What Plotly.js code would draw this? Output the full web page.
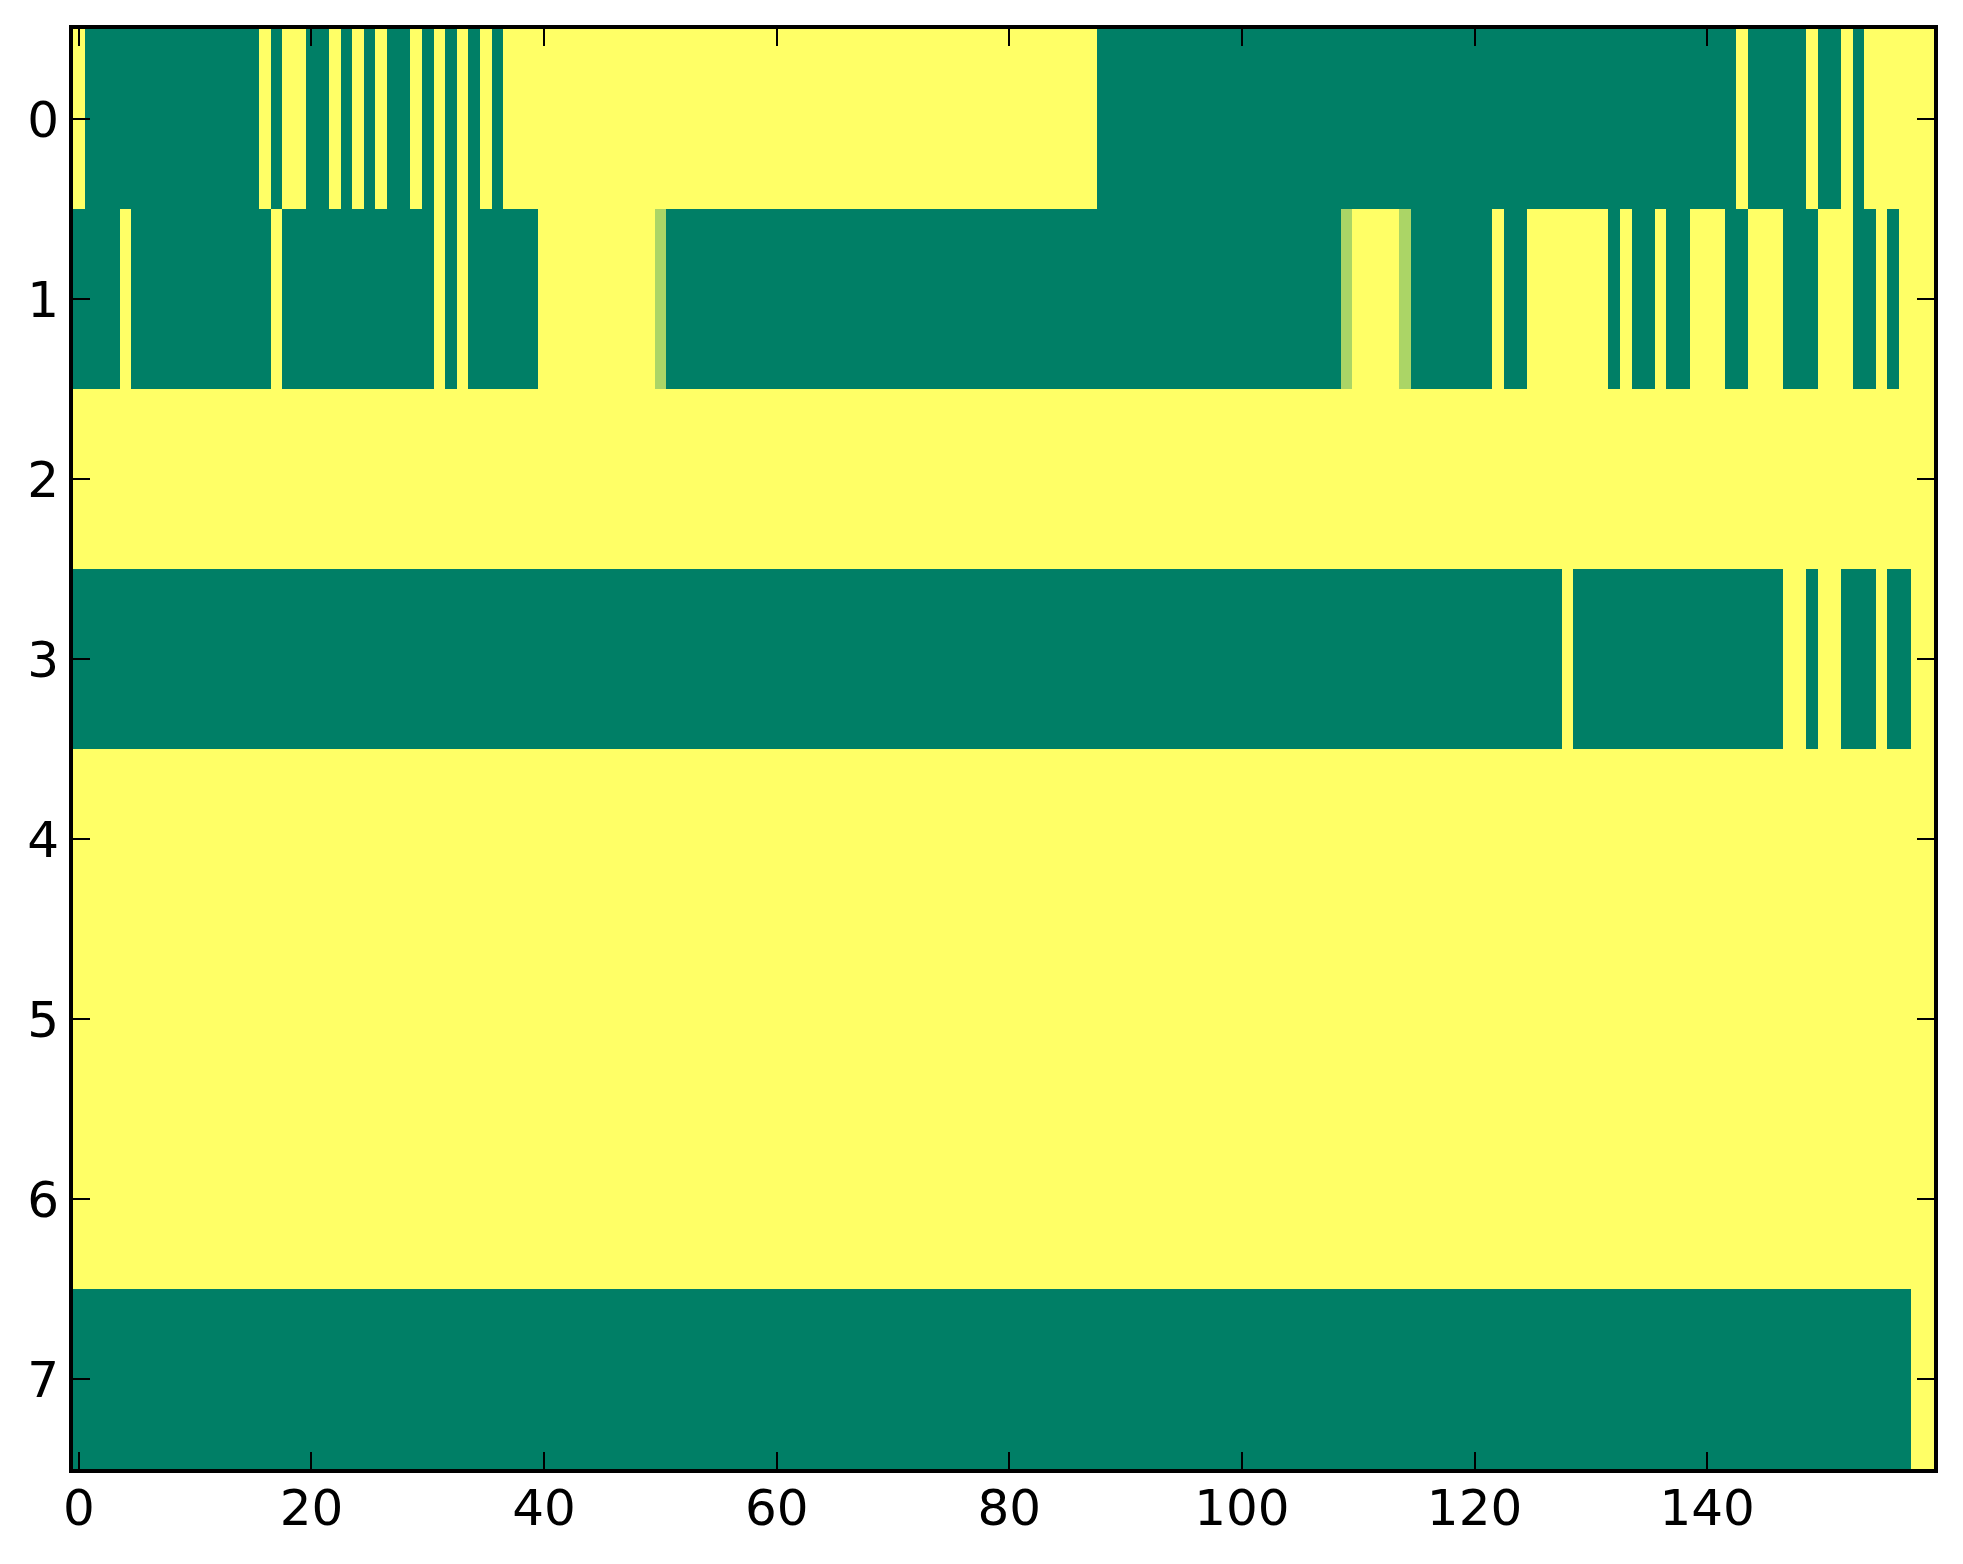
<!DOCTYPE html>
<html>
<head>
<meta charset="utf-8">
<script src="https://cdn.plot.ly/plotly-3.0.1.min.js"></script>
<style>html,body{margin:0;padding:0;background:#fff;}#chart{width:1963px;height:1564px;}</style>
</head>
<body>
<div id="chart"></div>
<script>
// Tick labels
const xTickVals = [0, 20, 40, 60, 80, 100, 120, 140];
const yTickVals = [0, 1, 2, 3, 4, 5, 6, 7];

// Row values (0 = green end, 1 = yellow end of the "summer" colormap), 160 columns each
const row0 = [
  1,0,0,0,0,0,0,0,0,0,
  0,0,0,0,0,0,1,0,1,1,
  0,0,1,0,1,0,1,0,0,1,
  0,1,0,1,0,1,0,1,1,1,
  1,1,1,1,1,1,1,1,1,1,
  1,1,1,1,1,1,1,1,1,1,
  1,1,1,1,1,1,1,1,1,1,
  1,1,1,1,1,1,1,1,1,1,
  1,1,1,1,1,1,1,1,0,0,
  0,0,0,0,0,0,0,0,0,0,
  0,0,0,0,0,0,0,0,0,0,
  0,0,0,0,0,0,0,0,0,0,
  0,0,0,0,0,0,0,0,0,0,
  0,0,0,0,0,0,0,0,0,0,
  0,0,0,1,0,0,0,0,0,1,
  0,0,1,0,1,1,1,1,1,1
];
const row1 = [
  0,0,0,0,1,0,0,0,0,0,
  0,0,0,0,0,0,0,1,0,0,
  0,0,0,0,0,0,0,0,0,0,
  0,1,0,1,0,0,0,0,0,0,
  1,1,1,1,1,1,1,1,1,1,
  0.67,0,0,0,0,0,0,0,0,0,
  0,0,0,0,0,0,0,0,0,0,
  0,0,0,0,0,0,0,0,0,0,
  0,0,0,0,0,0,0,0,0,0,
  0,0,0,0,0,0,0,0,0,0,
  0,0,0,0,0,0,0,0,0,0.67,
  1,1,1,1,0.67,0,0,0,0,0,
  0,0,1,0,0,1,1,1,1,1,
  1,1,0,1,0,0,1,0,0,1,
  1,1,0,0,1,1,1,0,0,0,
  1,1,1,0,0,1,0,1,1,1
];
const row2 = [
  1,1,1,1,1,1,1,1,1,1, 1,1,1,1,1,1,1,1,1,1,
  1,1,1,1,1,1,1,1,1,1, 1,1,1,1,1,1,1,1,1,1,
  1,1,1,1,1,1,1,1,1,1, 1,1,1,1,1,1,1,1,1,1,
  1,1,1,1,1,1,1,1,1,1, 1,1,1,1,1,1,1,1,1,1,
  1,1,1,1,1,1,1,1,1,1, 1,1,1,1,1,1,1,1,1,1,
  1,1,1,1,1,1,1,1,1,1, 1,1,1,1,1,1,1,1,1,1,
  1,1,1,1,1,1,1,1,1,1, 1,1,1,1,1,1,1,1,1,1,
  1,1,1,1,1,1,1,1,1,1, 1,1,1,1,1,1,1,1,1,1
];
const row3 = [
  0,0,0,0,0,0,0,0,0,0, 0,0,0,0,0,0,0,0,0,0,
  0,0,0,0,0,0,0,0,0,0, 0,0,0,0,0,0,0,0,0,0,
  0,0,0,0,0,0,0,0,0,0, 0,0,0,0,0,0,0,0,0,0,
  0,0,0,0,0,0,0,0,0,0, 0,0,0,0,0,0,0,0,0,0,
  0,0,0,0,0,0,0,0,0,0, 0,0,0,0,0,0,0,0,0,0,
  0,0,0,0,0,0,0,0,0,0, 0,0,0,0,0,0,0,0,0,0,
  0,0,0,0,0,0,0,0,1,0, 0,0,0,0,0,0,0,0,0,0,
  0,0,0,0,0,0,0,1,1,0, 1,1,0,0,0,1,0,0,1,1
];
const row4 = [
  1,1,1,1,1,1,1,1,1,1, 1,1,1,1,1,1,1,1,1,1,
  1,1,1,1,1,1,1,1,1,1, 1,1,1,1,1,1,1,1,1,1,
  1,1,1,1,1,1,1,1,1,1, 1,1,1,1,1,1,1,1,1,1,
  1,1,1,1,1,1,1,1,1,1, 1,1,1,1,1,1,1,1,1,1,
  1,1,1,1,1,1,1,1,1,1, 1,1,1,1,1,1,1,1,1,1,
  1,1,1,1,1,1,1,1,1,1, 1,1,1,1,1,1,1,1,1,1,
  1,1,1,1,1,1,1,1,1,1, 1,1,1,1,1,1,1,1,1,1,
  1,1,1,1,1,1,1,1,1,1, 1,1,1,1,1,1,1,1,1,1
];
const row5 = [
  1,1,1,1,1,1,1,1,1,1, 1,1,1,1,1,1,1,1,1,1,
  1,1,1,1,1,1,1,1,1,1, 1,1,1,1,1,1,1,1,1,1,
  1,1,1,1,1,1,1,1,1,1, 1,1,1,1,1,1,1,1,1,1,
  1,1,1,1,1,1,1,1,1,1, 1,1,1,1,1,1,1,1,1,1,
  1,1,1,1,1,1,1,1,1,1, 1,1,1,1,1,1,1,1,1,1,
  1,1,1,1,1,1,1,1,1,1, 1,1,1,1,1,1,1,1,1,1,
  1,1,1,1,1,1,1,1,1,1, 1,1,1,1,1,1,1,1,1,1,
  1,1,1,1,1,1,1,1,1,1, 1,1,1,1,1,1,1,1,1,1
];
const row6 = [
  1,1,1,1,1,1,1,1,1,1, 1,1,1,1,1,1,1,1,1,1,
  1,1,1,1,1,1,1,1,1,1, 1,1,1,1,1,1,1,1,1,1,
  1,1,1,1,1,1,1,1,1,1, 1,1,1,1,1,1,1,1,1,1,
  1,1,1,1,1,1,1,1,1,1, 1,1,1,1,1,1,1,1,1,1,
  1,1,1,1,1,1,1,1,1,1, 1,1,1,1,1,1,1,1,1,1,
  1,1,1,1,1,1,1,1,1,1, 1,1,1,1,1,1,1,1,1,1,
  1,1,1,1,1,1,1,1,1,1, 1,1,1,1,1,1,1,1,1,1,
  1,1,1,1,1,1,1,1,1,1, 1,1,1,1,1,1,1,1,1,1
];
const row7 = [
  0,0,0,0,0,0,0,0,0,0, 0,0,0,0,0,0,0,0,0,0,
  0,0,0,0,0,0,0,0,0,0, 0,0,0,0,0,0,0,0,0,0,
  0,0,0,0,0,0,0,0,0,0, 0,0,0,0,0,0,0,0,0,0,
  0,0,0,0,0,0,0,0,0,0, 0,0,0,0,0,0,0,0,0,0,
  0,0,0,0,0,0,0,0,0,0, 0,0,0,0,0,0,0,0,0,0,
  0,0,0,0,0,0,0,0,0,0, 0,0,0,0,0,0,0,0,0,0,
  0,0,0,0,0,0,0,0,0,0, 0,0,0,0,0,0,0,0,0,0,
  0,0,0,0,0,0,0,0,0,0, 0,0,0,0,0,0,0,0,1,1
];

const z = [row0, row1, row2, row3, row4, row5, row6, row7];
const nCols = row0.length;
const nRows = z.length;

const trace = {
  type: 'heatmap',
  z: z,
  zmin: 0,
  zmax: 1,
  colorscale: [[0, 'rgb(0,127,102)'], [1, 'rgb(255,255,102)']],
  showscale: false,
  hoverinfo: 'skip'
};

const tickFont = {family: 'DejaVu Sans', size: 50, color: '#000'};
const axisCommon = {
  ticks: 'inside',
  ticklen: 17,
  tickwidth: 2,
  tickcolor: '#000',
  mirror: 'allticks',
  showline: true,
  linecolor: '#000',
  linewidth: 4,
  showgrid: false,
  zeroline: false,
  tickfont: tickFont,
  tickmode: 'array'
};

const layout = {
  width: 1963,
  height: 1564,
  margin: {l: 73, r: 29, t: 29, b: 95, pad: 0},
  paper_bgcolor: '#fff',
  plot_bgcolor: '#fff',
  showlegend: false,
  xaxis: Object.assign({}, axisCommon, {
    range: [-0.5, nCols - 0.5],
    tickvals: xTickVals,
    ticktext: xTickVals.map(String),
    ticklabelstandoff: -8
  }),
  yaxis: Object.assign({}, axisCommon, {
    range: [nRows - 0.5, -0.5],
    tickvals: yTickVals,
    ticktext: yTickVals.map(String),
    ticklabelstandoff: 0
  })
};

Plotly.newPlot('chart', [trace], layout, {staticPlot: true, displayModeBar: false});
</script>
</body>
</html>
